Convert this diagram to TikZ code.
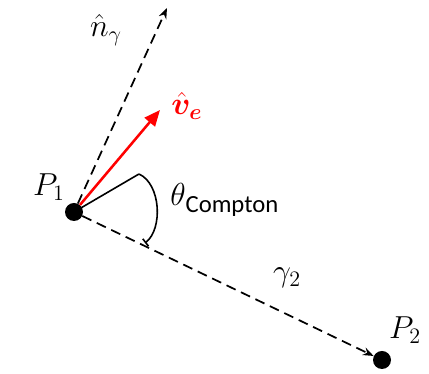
\documentclass[tikz,border=0pt]{standalone}
\usepackage{amsmath,amssymb,bm}
\usepackage{fontspec}
\newfontfamily\calibri{Carlito}
\usetikzlibrary{arrows.meta,calc}
\newcommand{\lbl}[1]{\scalebox{1.15}{\huge #1}}

\begin{document}
\begin{tikzpicture}[x=0.75pt,y=0.75pt,
  dot/.style={circle, fill=black, inner sep=0pt, minimum size=13.5pt},
  ray/.style={dash pattern=on 7.5pt off 4.5pt, line width=1.3pt, -{Stealth[length=8pt,width=6pt]}},
  elec/.style={red, line width=1.9pt, -{Triangle[length=12pt,width=10pt]}},
  angarc/.style={line width=1.2pt}
]
\useasboundingbox (0,0) rectangle (429,374);
% ---- points ----
\node[dot] (P1) at (74,162) {};
\node[dot] (P2) at (382,14) {};
\coordinate (ntip) at (167,366);
\coordinate (vtip) at (160,264);
\coordinate (arm) at (139,200);
\coordinate (armend) at (145,131);
% ---- directions ----
\draw[ray] (P1) -- (ntip);
\draw[ray] (P1) -- (P2);
\draw[elec] (P1) -- (vtip);
% ---- Compton angle ----
\draw[angarc] (P1.center) -- (arm);
\draw[angarc, -{Bar[width=7pt]}] (arm) .. controls (161,190) and (163,145) .. (armend);
% ---- labels ----
\node (lP1) at (49,187) {\lbl{$P_1$}};
\node (lP2) at (405,44) {\lbl{$P_2$}};
\node (ln) at (106,344) {\lbl{$\hat{n}_\gamma$}};
\node[red, anchor=west, inner sep=0pt] (lv) at (171,268) {\lbl{$\bm{\hat{v}_e}$}};
\node (lg) at (287,96) {\lbl{$\gamma_2$}};
\node[anchor=west, inner sep=0pt] (lth) at (170,174) {\lbl{$\theta$}\raisebox{-5pt}{\fontsize{18.5}{20}\selectfont\calibri Compton}};
\end{tikzpicture}
\end{document}
